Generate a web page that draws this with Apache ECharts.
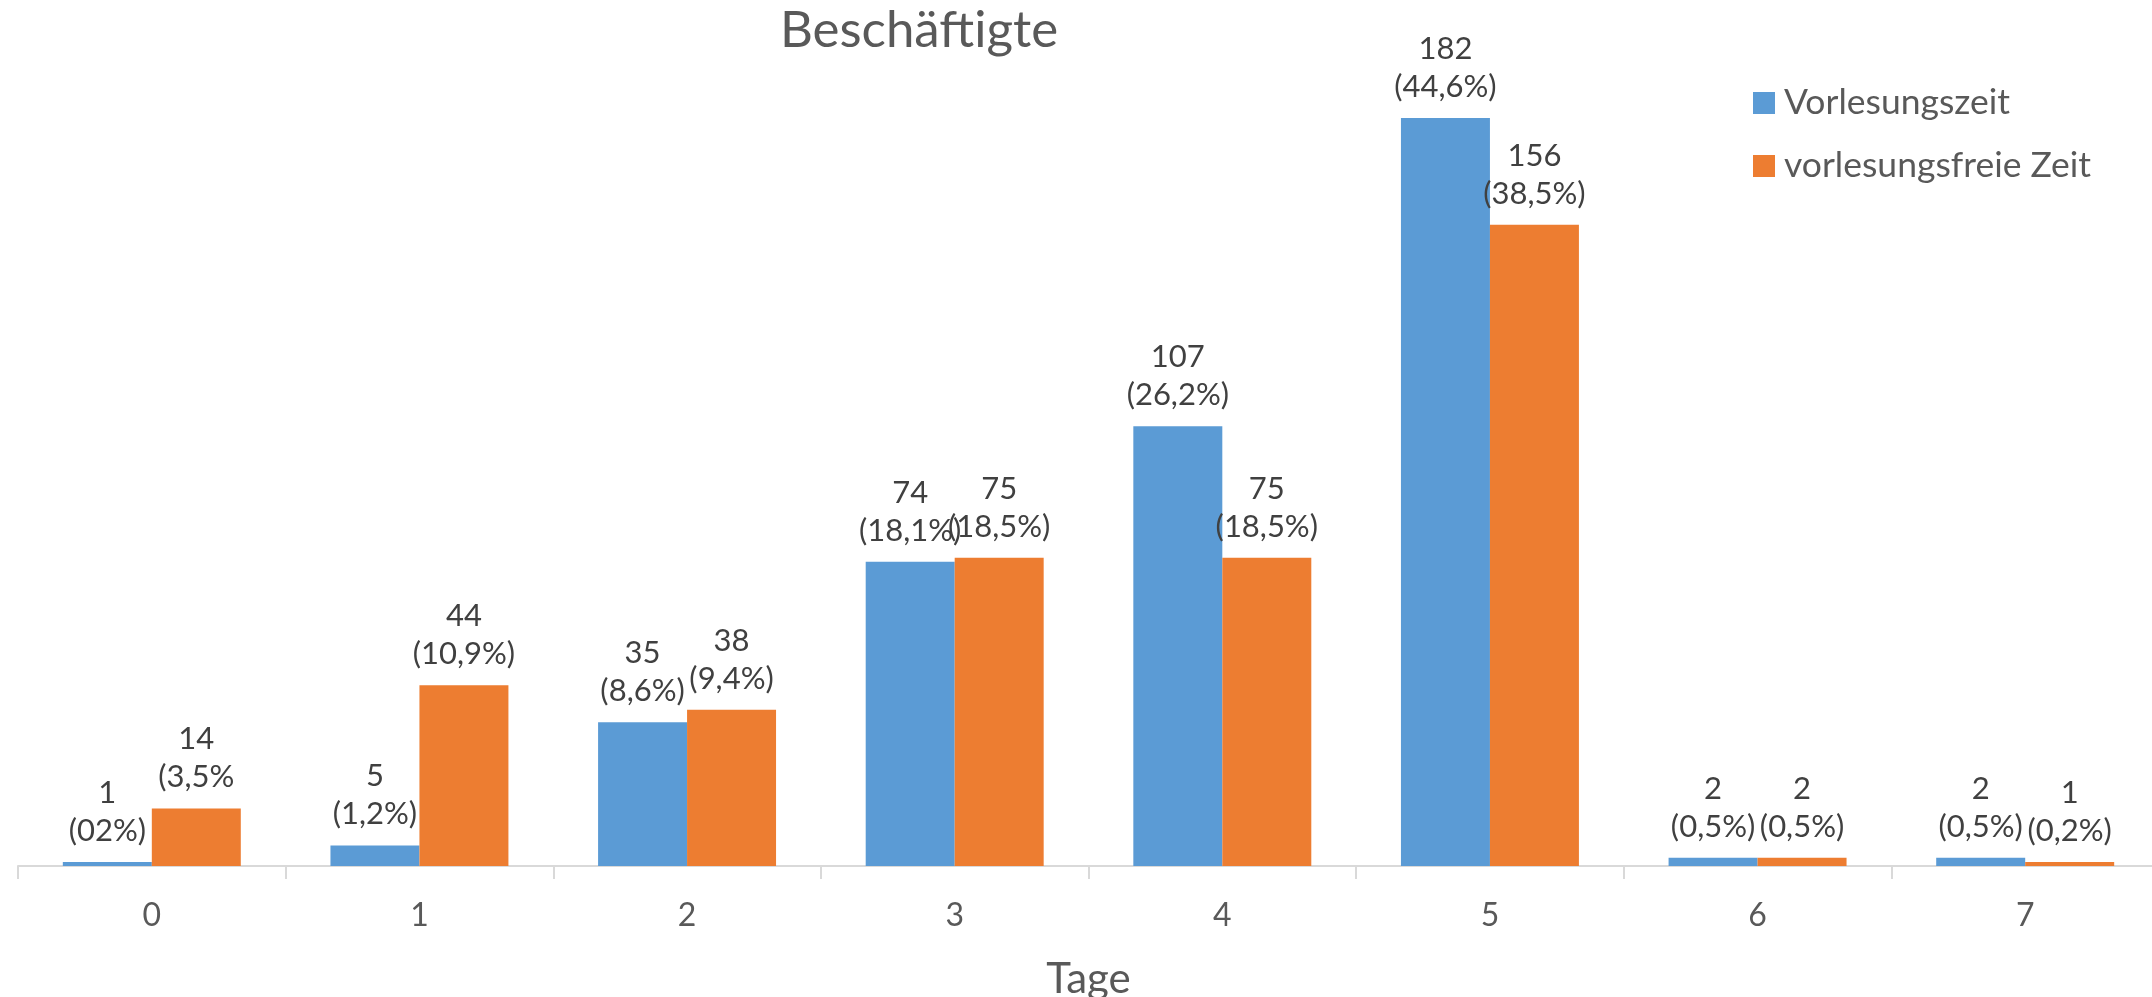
<!DOCTYPE html>
<html>
<head>
<meta charset="utf-8">
<script src="https://cdn.jsdelivr.net/npm/echarts@6/dist/echarts.min.js"></script>
<style>
  html, body { margin: 0; padding: 0; background: #fff; }
  #chart { width: 2152px; height: 997px; }
</style>
</head>
<body>
<div id="chart"></div>
<script>
// Tage pro Woche
const tage = ['0', '1', '2', '3', '4', '5', '6', '7'];
// Anzahl Beschäftigte
const vorlesungszeit = [1, 5, 35, 74, 107, 182, 2, 2];
const vorlesungsfrei = [14, 44, 38, 75, 75, 156, 2, 1];
// Prozent-Beschriftung (wie im Original)
const pctVorlesung = ['(02%)', '(1,2%)', '(8,6%)', '(18,1%)', '(26,2%)', '(44,6%)', '(0,5%)', '(0,5%)'];
const pctFrei = ['(3,5%', '(10,9%)', '(9,4%)', '(18,5%)', '(18,5%)', '(38,5%)', '(0,5%)', '(0,2%)'];

const FONT = 'Lato';
const chart = echarts.init(document.getElementById('chart'));

function labelFor(pcts) {
    return {
        show: true,
        position: 'top',
        distance: 12,
        fontFamily: FONT,
        fontSize: 31,
        lineHeight: 38,
        color: '#404040',
        formatter: p => p.value + '\n' + pcts[p.dataIndex]
    };
}

chart.setOption({
    animation: false,
    textStyle: { fontFamily: FONT },
    title: {
        text: 'Beschäftigte',
        left: 914,
        textAlign: 'center',
        top: 0,
        textStyle: { fontFamily: FONT, fontSize: 51, fontWeight: 'normal', color: '#595959' }
    },
    legend: {
        orient: 'vertical',
        left: 1748,
        top: 80,
        icon: 'rect',
        itemWidth: 22,
        itemHeight: 22,
        itemGap: 27,
        data: ['Vorlesungszeit', 'vorlesungsfreie Zeit'],
        textStyle: { fontFamily: FONT, fontSize: 35.5, lineHeight: 36, color: '#595959', padding: [0, 0, 0, 4] }
    },
    grid: { left: 18, top: 44, width: 2141, bottom: 131, outerBoundsMode: 'none' },
    xAxis: {
        type: 'category',
        data: tage,
        name: 'Tage',
        nameLocation: 'middle',
        nameGap: 92,
        nameTextStyle: { fontFamily: FONT, fontSize: 42, color: '#595959' },
        axisLine: { lineStyle: { color: '#d9d9d9', width: 2 } },
        axisTick: { show: true, length: 13, lineStyle: { color: '#d9d9d9', width: 2 } },
        axisLabel: { fontFamily: FONT, fontSize: 32, color: '#595959', margin: 34 }
    },
    yAxis: {
        type: 'value',
        min: 0,
        max: 200,
        show: false,
        splitLine: { show: false }
    },
    series: [
        {
            name: 'Vorlesungszeit',
            type: 'bar',
            data: vorlesungszeit,
            barGap: '0%',
            barCategoryGap: '33.5%',
            itemStyle: { color: '#5b9bd5' },
            label: labelFor(pctVorlesung)
        },
        {
            name: 'vorlesungsfreie Zeit',
            type: 'bar',
            data: vorlesungsfrei,
            barGap: '0%',
            barCategoryGap: '33.5%',
            itemStyle: { color: '#ed7d31' },
            label: labelFor(pctFrei)
        }
    ]
});
</script>
</body>
</html>
